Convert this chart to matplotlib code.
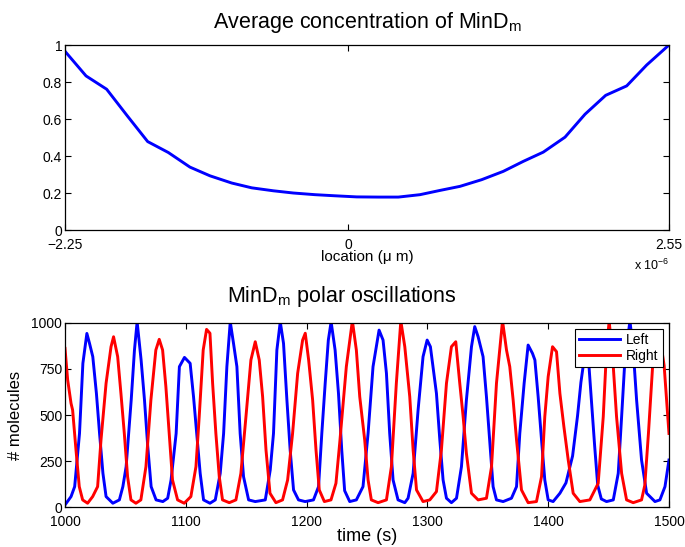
import matplotlib
matplotlib.use("Agg")
import matplotlib.pyplot as plt
import numpy as np

plt.rcParams['font.family'] = ['Liberation Sans', 'DejaVu Sans']
plt.rcParams['mathtext.fontset'] = 'custom'
plt.rcParams['mathtext.rm'] = 'Liberation Sans'
plt.rcParams['mathtext.it'] = 'Liberation Sans'

# ---- top panel data: average concentration vs location (micrometres) ----
location_um = [-2.25, -2.083, -1.919, -1.756, -1.593, -1.429, -1.257, -1.098, -0.925,
               -0.766, -0.594, -0.435, -0.263, -0.104, 0.068, 0.240, 0.399, 0.571,
               0.730, 0.889, 1.061, 1.233, 1.392, 1.551, 1.724, 1.883, 2.047, 2.214,
               2.373, 2.55]
concentration = [0.966, 0.833, 0.761, 0.618, 0.478, 0.419, 0.340, 0.293, 0.254,
                 0.228, 0.212, 0.200, 0.191, 0.185, 0.179, 0.178, 0.178, 0.191,
                 0.214, 0.236, 0.272, 0.317, 0.371, 0.421, 0.502, 0.626, 0.728, 0.779,
                 0.892, 1.0]
top_xticks_um = [-2.25, 0, 2.55]
top_xticklabels = ['\u22122.25', '0', '2.55']
top_yticks = [0, 0.2, 0.4, 0.6, 0.8, 1]
top_yticklabels = ['0', '0.2', '0.4', '0.6', '0.8', '1']

# ---- bottom panel data: polar oscillations ----
left_t = [1000, 1005, 1008, 1012, 1014.8, 1018.1, 1020.3, 1023, 1026, 1028.6, 1031.4, 1034,
          1039.6, 1045, 1047.9, 1050.6, 1054.8, 1057.5, 1059.7, 1063, 1065.8, 1068.5, 1071.3,
          1075.4, 1081, 1085, 1087.8, 1092, 1094.7, 1098.9, 1103.6, 1106.4, 1109, 1111.9,
          1114.7, 1120, 1124.4, 1128.5, 1131.3, 1134, 1136.8, 1139.5, 1142.3, 1145, 1147.8,
          1152, 1157.5, 1165.8, 1169.9, 1172.6, 1175.4, 1178.2, 1180.9, 1183.7, 1186.4,
          1189.2, 1193.3, 1198.8, 1205.7, 1209.9, 1212.6, 1215.4, 1218, 1220.3, 1223.6,
          1226.4, 1229.1, 1231.5, 1235.7, 1241.2, 1246.7, 1250.9, 1255, 1260, 1263.3, 1266.1,
          1268.8, 1271.6, 1275.7, 1281.3, 1284, 1288.2, 1292.3, 1296.4, 1299.8, 1302.5,
          1307.5, 1310.3, 1313, 1315.8, 1319.9, 1324.1, 1328.2, 1332.3, 1336.5, 1339.2, 1342,
          1346.1, 1348.9, 1351.7, 1354.4, 1357.2, 1362.7, 1369.6, 1373.8, 1376.5, 1380.1,
          1383.4, 1387, 1389, 1391.7, 1394.5, 1397.2, 1400, 1404.1, 1409.7, 1414.7, 1420.2,
          1424.3, 1427.1, 1429.5, 1431.5, 1433.5, 1436, 1438.5, 1441, 1444, 1448.3, 1453.9,
          1458, 1460.8, 1463.5, 1467.7, 1470.4, 1473.2, 1477.3, 1481.5, 1488.4, 1492.5,
          1496.7, 1500]
left_n = [13, 58, 112, 400, 780, 942, 888, 816, 617, 400, 184, 58,
          22, 40, 112, 220, 581, 852, 1005, 798, 581, 329, 112,
          40, 31, 49, 148, 400, 762, 812, 780, 599, 400, 184,
          40, 22, 40, 184, 400, 762, 1005, 888, 762, 400, 166,
          40, 31, 40, 202, 400, 852, 1005, 888, 581, 310,
          94, 40, 31, 40, 112, 400, 672, 906, 1005, 852,
          617, 310, 90, 31, 40, 112, 400, 762, 960, 906, 726,
          400, 148, 40, 25, 49, 184, 527, 816, 906, 870,
          617, 365, 148, 49, 25, 49, 220, 581, 870, 979, 924,
          816, 599, 347, 112, 40, 31, 49, 112, 400, 672,
          879, 834, 798, 599, 365, 148, 40, 31, 76, 132, 278,
          495, 677, 790, 950, 790, 560, 330, 120, 45, 31, 40,
          184, 491, 798, 1010, 852, 581, 256, 76, 31, 40,
          112, 256]

right_t = [1000, 1002.2, 1005, 1006.3, 1009.1, 1011.8, 1014.6, 1018.7, 1022.9, 1027, 1029.8,
           1034, 1038.1, 1040.2, 1043.6, 1046.3, 1049.1, 1051.8, 1054.6, 1058.7, 1062.8, 1067,
           1071.1, 1075.2, 1078, 1080.8, 1083.5, 1086.3, 1089, 1093.2, 1098.7, 1104.2, 1108.4,
           1111.1, 1114.4, 1117.2, 1120, 1122.2, 1124.9, 1127.7, 1130.4, 1136, 1141.5, 1145.6,
           1149.8, 1153.9, 1157.5, 1160.8, 1163.6, 1166.4, 1169.7, 1174.6, 1180.1, 1184.3,
           1188.4, 1192.6, 1196.7, 1198.9, 1201.7, 1205, 1207.8, 1210.5, 1214.7, 1220.2, 1224.3,
           1227.4, 1232.9, 1237.9, 1241.2, 1244, 1248.1, 1250.9, 1253.6, 1259.2, 1266.1, 1270.2,
           1274.3, 1278, 1281.3, 1285.4, 1288.2, 1291, 1296.4, 1302, 1307.5, 1311.6, 1315.8,
           1319.9, 1323.5, 1326.8, 1329.6, 1332.3, 1336.5, 1342, 1348.9, 1353.1, 1357.2, 1362.2,
           1365.5, 1368.2, 1371, 1373.8, 1377.9, 1383.4, 1390.3, 1394.5, 1397.2, 1400, 1403.6,
           1406.9, 1409.7, 1413, 1416.6, 1420.7, 1426.2, 1434.5, 1441.4, 1445.6, 1448.3, 1450.5,
           1453.9, 1456.6, 1460.8, 1464.9, 1470.4, 1477.3, 1480, 1483, 1486.5, 1490, 1493, 1496,
           1500]
right_n = [861, 690, 563, 527, 310, 112, 40, 22, 58, 112, 365,
           672, 870, 924, 816, 617, 400, 166, 40, 22, 40, 220,
           581, 852, 910, 852, 654, 400, 148, 40, 22, 58, 220,
           491, 852, 964, 943, 672, 400, 166, 40, 25, 40, 184,
           491, 798, 897, 798, 599, 310, 76, 25, 40, 148,
           400, 726, 906, 943, 798, 581, 310, 94, 31, 40, 130,
           347, 762, 1010, 852, 599, 365, 148, 40, 25, 40, 220,
           672, 1010, 870, 599, 310, 94, 31, 40, 85, 310, 672,
           870, 897, 672, 491, 292, 76, 40, 49, 220, 672, 1010,
           852, 762, 581, 365, 94, 25, 31, 166, 491, 708, 870,
           843, 617, 437, 256, 76, 31, 40, 130, 491, 852, 1010,
           762, 491, 184, 40, 25, 40, 120, 400, 768, 950, 900, 768,
           400]
bottom_xticks = [1000, 1100, 1200, 1300, 1400, 1500]
bottom_yticks = [0, 250, 500, 750, 1000]
series_labels = ['Left', 'Right']

fig = plt.figure(figsize=(6.85, 5.47), dpi=100)
ax1 = fig.add_axes([0.0949, 0.5795, 0.8817, 0.3382])
ax2 = fig.add_axes([0.0949, 0.0726, 0.8817, 0.3374])

for ax in (ax1, ax2):
    ax.tick_params(direction='in', top=True, right=True, length=4, width=0.8,
                   labelsize=10, pad=2)
    ax.tick_params(axis='x', pad=5.6)
    for sp in ax.spines.values():
        sp.set_linewidth(0.9)

# top
x_m = np.array(location_um) * 1e-6
ax1.plot(x_m, concentration, color=(0, 0, 1), lw=2.1)
ax1.set_xlim(-2.25e-6, 2.55e-6)
ax1.set_ylim(0, 1)
ax1.set_xticks(np.array(top_xticks_um) * 1e-6)
ax1.set_xticklabels(top_xticklabels)
ax1.set_yticks(top_yticks)
ax1.set_yticklabels(top_yticklabels)
ax1.set_xlabel('location (\u03bc m)', fontsize=11, labelpad=-1)
ax1.set_title('Average concentration of MinD$_\\mathregular{m}$', fontsize=15.5, pad=12.5)
ax1.text(1.0, -0.19, 'x 10$^{\\mathregular{-6}}$', transform=ax1.transAxes,
         ha='right', va='center', fontsize=9)

# bottom
ax2.plot(left_t, left_n, color=(0, 0, 1), lw=2.1, label=series_labels[0])
ax2.plot(right_t, right_n, color=(1, 0, 0), lw=2.1, label=series_labels[1])
ax2.set_xlim(1000, 1500)
ax2.set_ylim(0, 1000)
ax2.set_xticks(bottom_xticks)
ax2.set_yticks(bottom_yticks)
ax2.set_xlabel('time (s)', fontsize=13, labelpad=-1)
ax2.set_ylabel('# molecules', fontsize=12, labelpad=6)
ax2.set_title('MinD$_\\mathregular{m}$ polar oscillations', fontsize=15.5, pad=15, x=0.459)
leg = ax2.legend(loc='upper right', fontsize=10, fancybox=False, framealpha=1,
                 edgecolor='black', handlelength=3.0, borderaxespad=0.45,
                 borderpad=0.3, labelspacing=0.15, handletextpad=0.4)
leg.get_frame().set_linewidth(0.8)

fig.savefig('out.png', dpi=100)
